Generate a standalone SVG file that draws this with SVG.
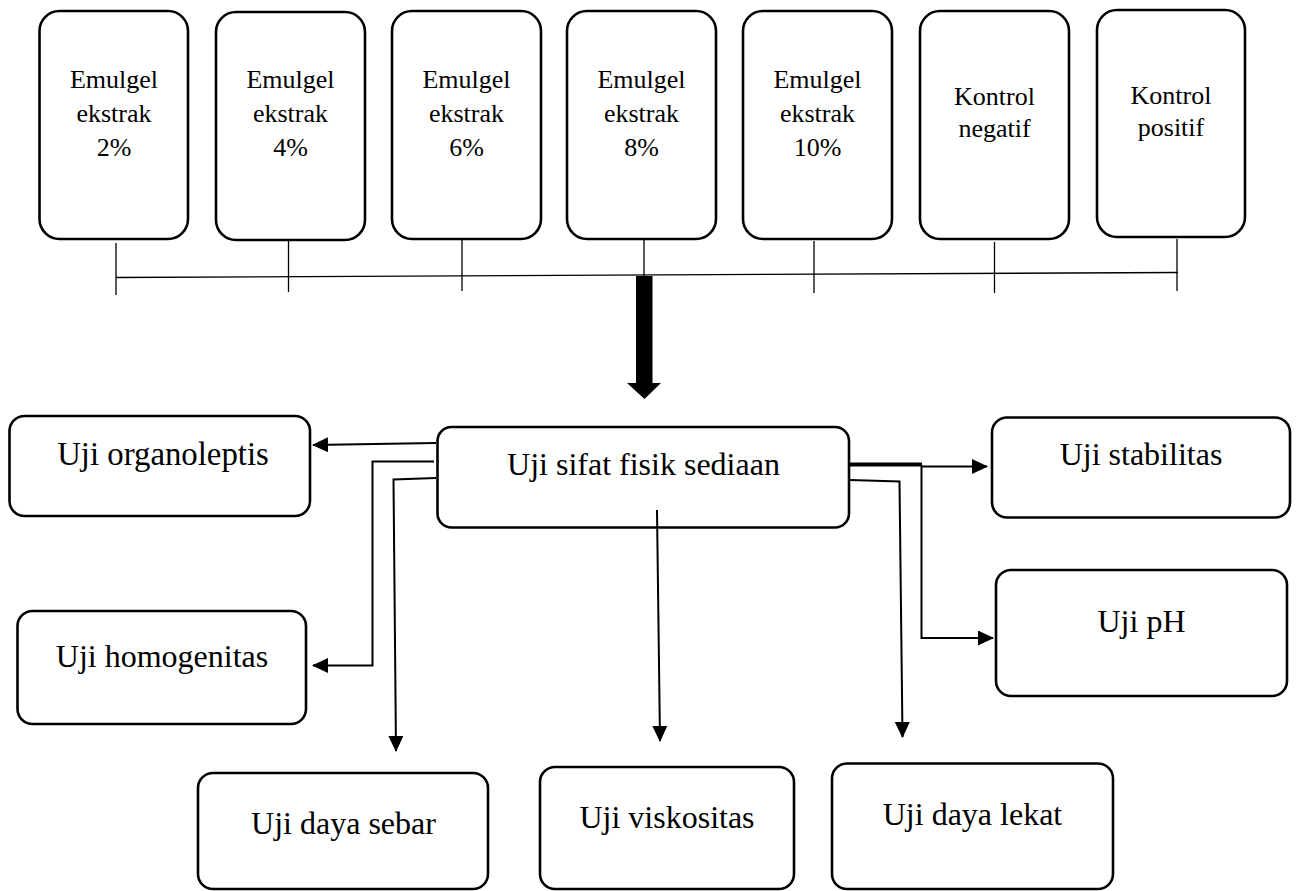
<svg xmlns="http://www.w3.org/2000/svg" width="1296" height="891" viewBox="0 0 1296 891">
<defs>
<style>
.box{fill:#fff;stroke:#000;stroke-width:2.6}
.t{font-family:"Liberation Serif","Times New Roman",serif;fill:#000;text-anchor:middle}
.ts{font-size:26px}
.tl{font-size:32px}
.tick{stroke:#000;stroke-width:1.3;fill:none}
.con{stroke:#000;stroke-width:2;fill:none}
</style>
<marker id="ah" markerUnits="userSpaceOnUse" markerWidth="16" markerHeight="15" refX="15" refY="7.5" orient="auto">
<path d="M0,0 L16,7.5 L0,15 z" fill="#000"/>
</marker>
</defs>
<rect width="1296" height="891" fill="#fff"/>

<g id="n1"><rect class="box" x="39.5" y="11" width="148.5" height="228" rx="20"/>
<text class="t ts" x="114" y="88">Emulgel</text><text class="t ts" x="114" y="122">ekstrak</text><text class="t ts" x="114" y="156">2%</text></g>
<g id="n2"><rect class="box" x="216" y="12" width="149" height="228" rx="20"/>
<text class="t ts" x="290.5" y="88">Emulgel</text><text class="t ts" x="290.5" y="122">ekstrak</text><text class="t ts" x="290.5" y="156">4%</text></g>
<g id="n3"><rect class="box" x="392" y="11" width="149" height="228" rx="20"/>
<text class="t ts" x="466.5" y="88">Emulgel</text><text class="t ts" x="466.5" y="122">ekstrak</text><text class="t ts" x="466.5" y="156">6%</text></g>
<g id="n4"><rect class="box" x="567" y="11" width="149" height="228" rx="20"/>
<text class="t ts" x="641.5" y="88">Emulgel</text><text class="t ts" x="641.5" y="122">ekstrak</text><text class="t ts" x="641.5" y="156">8%</text></g>
<g id="n5"><rect class="box" x="743" y="11" width="149" height="228" rx="20"/>
<text class="t ts" x="817.5" y="88">Emulgel</text><text class="t ts" x="817.5" y="122">ekstrak</text><text class="t ts" x="817.5" y="156">10%</text></g>
<g id="n6"><rect class="box" x="920" y="11" width="149" height="228" rx="20"/>
<text class="t ts" x="994.5" y="105">Kontrol</text><text class="t ts" x="994.5" y="137">negatif</text></g>
<g id="n7"><rect class="box" x="1097" y="10" width="148" height="227" rx="20"/>
<text class="t ts" x="1171" y="104">Kontrol</text><text class="t ts" x="1171" y="136">positif</text></g>

<g id="n-sifat"><rect class="box" x="437.5" y="427" width="411.5" height="100.5" rx="14"/>
<text class="t tl" x="643.5" y="475">Uji sifat fisik sediaan</text></g>
<g id="n-organoleptis"><rect class="box" x="9.5" y="416" width="300.5" height="100" rx="15"/>
<text class="t tl" x="163" y="465" style="font-size:32.8px">Uji organoleptis</text></g>
<g id="n-homogenitas"><rect class="box" x="17.5" y="611" width="288.5" height="113" rx="15"/>
<text class="t tl" x="162" y="667">Uji homogenitas</text></g>
<g id="n-stabilitas"><rect class="box" x="992" y="417.5" width="298" height="100" rx="15"/>
<text class="t tl" x="1141" y="465">Uji stabilitas</text></g>
<g id="n-ph"><rect class="box" x="996" y="570" width="291" height="126" rx="15"/>
<text class="t tl" x="1141.5" y="632">Uji pH</text></g>
<g id="n-sebar"><rect class="box" x="198" y="773" width="290" height="116" rx="15"/>
<text class="t tl" x="343.5" y="834">Uji daya sebar</text></g>
<g id="n-viskositas"><rect class="box" x="540" y="767" width="254" height="122" rx="15"/>
<text class="t tl" x="667" y="828">Uji viskositas</text></g>
<g id="n-lekat"><rect class="box" x="832" y="763.5" width="281" height="125.5" rx="15"/>
<text class="t tl" x="972.5" y="825">Uji daya lekat</text></g>

<g id="connectors">
<line class="tick" x1="116" y1="277.5" x2="1178" y2="272.5"/>
<line class="tick" x1="116" y1="243" x2="116" y2="295"/>
<line class="tick" x1="288.5" y1="240" x2="288.5" y2="292"/>
<line class="tick" x1="462" y1="239" x2="462" y2="291"/>
<line class="tick" x1="644" y1="239" x2="644" y2="277"/>
<line class="tick" x1="814" y1="241" x2="814" y2="293"/>
<line class="tick" x1="994.5" y1="242" x2="994.5" y2="293"/>
<line class="tick" x1="1177" y1="239" x2="1177" y2="291"/>
<path d="M636,276 L652.5,276 L652.5,383 L661,383 L644.5,399 L627,383 L636,383 Z" fill="#000"/>
<line class="con" x1="436" y1="443" x2="313" y2="445" marker-end="url(#ah)"/>
<polyline class="con" points="434,461.5 372.5,461.5 372.5,665.5 313,665.5" marker-end="url(#ah)"/>
<polyline class="con" points="436,478 393.5,479.5 396,751" marker-end="url(#ah)"/>
<line class="con" x1="657" y1="510" x2="660" y2="741" marker-end="url(#ah)"/>
<polyline class="con" points="850,480 899.5,481.5 902.5,737" marker-end="url(#ah)"/>
<line stroke="#000" stroke-width="4" x1="850" y1="464.5" x2="922" y2="464.5"/>
<line class="con" x1="921" y1="466.5" x2="987" y2="466.5" marker-end="url(#ah)"/>
<polyline class="con" points="921.5,465 921.5,638 993,638" marker-end="url(#ah)"/>
</g>
</svg>
